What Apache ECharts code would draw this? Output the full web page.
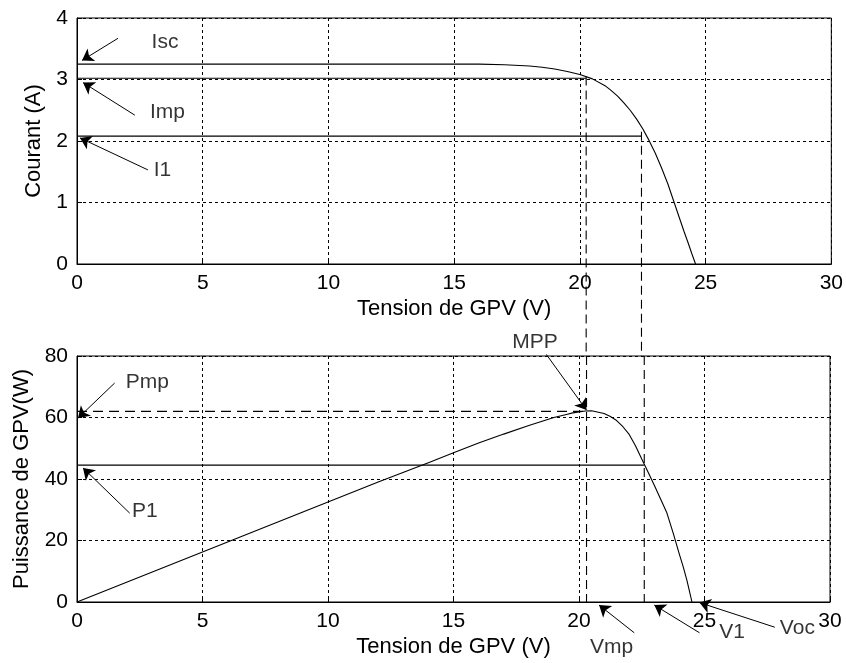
<!DOCTYPE html>
<html>
<head>
<meta charset="utf-8">
<script src="https://cdn.jsdelivr.net/npm/echarts@6/dist/echarts.min.js"></script>
<style>
html,body{margin:0;padding:0;background:#fff;}
#main{width:846px;height:663px;}
</style>
</head>
<body>
<div id="main"></div>
<script>
// ---- data ----
const voltageIV = [0,2,4,6,8,10,12,14,15,16,17,18,18.5,19,19.5,20,20.5,21,21.25,21.5,21.75,22,22.25,22.5,22.75,23,23.25,23.5,23.75,24,24.15,24.3,24.45,24.6];
const currentIV = [3.25,3.25,3.25,3.25,3.25,3.25,3.25,3.25,3.25,3.25,3.24,3.22,3.2,3.17,3.13,3.08,3.01,2.9,2.82,2.73,2.62,2.5,2.36,2.2,2.01,1.8,1.56,1.3,1.0,0.7,0.52,0.35,0.17,0];
const voltagePV = [0,2,4,6,8,10,12,14,15,16,17,18,18.5,19,19.5,19.75,20,20.25,20.5,21,21.25,21.5,21.75,22,22.25,22.5,22.75,23,23.25,23.5,23.75,24,24.15,24.3,24.4,24.5];
const powerPV   = [0,6.5,13,19.5,26,32.5,39,45.3,48.5,51.7,54.6,57.4,58.7,60,61,61.5,61.8,62.1,62.2,61.3,60.3,59,57,54.5,50.8,46.5,42.3,38,33.5,29,22.5,15.5,11.5,7,3.5,0];

const xTicks = [0,5,10,15,20,25,30];
const currentTicks = [0,1,2,3,4];
const powerTicks = [0,20,40,60,80];

// operating points
const Imp = 3.02, Vmp_top = 20.25, Imp_curve = 3.05;
const I1 = 2.08, V1_top = 22.45, I1_curve = 2.15;
const Pmp = 62, Vmp = 20.3;
const P1 = 44.5, V1 = 22.6;

// annotation labels (data coordinates) and arrows [from, to]
const topLabels = [['Isc',3.5,3.6],['Imp',3.6,2.47],['I1',3.4,1.53]];
const topArrows = [[[1.63,3.67],[0.2,3.31]],[[2.3,2.42],[0.24,2.95]],[[2.82,1.53],[0.12,2.05]]];
const botLabels = [['Pmp',2.8,71.5],['P1',2.7,29.6],['MPP',18.25,84.5],['Vmp',21.3,-14.6],['V1',26.1,-9.8],['Voc',28.7,-8.5]];
const botArrows = [[[1.5,71.2],[0.04,59.8]],[[2.1,28.9],[0.24,43.6]],[[18.7,80.5],[20.3,62.4]],
                   [[22.2,-10],[20.8,-1]],[[24.8,-10],[23.0,-1]],[[27.8,-8.2],[24.8,-0.2]]];

const FONT = 'Liberation Sans, Arial, sans-serif';
const TICK_FS = 21, NAME_FS = 22, LABEL_FS = 21;
const zip = (a,b) => a.map((v,i)=>[v,b[i]]);

const chart = echarts.init(document.getElementById('main'));

function xAxis(gridIndex){
  return {
    type:'value', gridIndex, min:0, max:30, interval:5,
    name:'Tension de GPV (V)', nameLocation:'middle', nameGap:34,
    nameTextStyle:{color:'#000', fontSize:NAME_FS, fontFamily:FONT},
    axisLine:{show:true, onZero:false, lineStyle:{color:'#000', width:1}},
    axisTick:{show:true, inside:true, length:5, lineStyle:{color:'#000'}},
    axisLabel:{color:'#000', fontSize:TICK_FS, fontFamily:FONT, margin:9},
    splitLine:{show:true, lineStyle:{color:'#000', type:[3,3], width:1}}
  };
}
function yAxis(gridIndex, max, interval, name, gap){
  return {
    type:'value', gridIndex, min:0, max, interval,
    name, nameLocation:'middle', nameGap:gap,
    nameTextStyle:{color:'#000', fontSize:NAME_FS, fontFamily:FONT},
    axisLine:{show:true, onZero:false, lineStyle:{color:'#000', width:1}},
    axisTick:{show:true, inside:true, length:5, lineStyle:{color:'#000'}},
    axisLabel:{color:'#000', fontSize:TICK_FS, fontFamily:FONT, margin:9},
    splitLine:{show:true, lineStyle:{color:'#000', type:[3,3], width:1}}
  };
}
function seg(name, xi, data, lineType, extra){
  return Object.assign({
    name, type:'line', xAxisIndex:xi, yAxisIndex:xi, data, showSymbol:false, symbol:'none',
    clip:false, silent:true, animation:false,
    lineStyle:{color:'#000', width:1.1, type:lineType||'solid'}
  }, extra||{});
}
function arrows(xi, list){
  return {
    type:'lines', coordinateSystem:'cartesian2d', xAxisIndex:xi, yAxisIndex:xi,
    clip:false, silent:true, animation:false,
    symbol:['none','arrow'], symbolSize:[0,11],
    lineStyle:{color:'#000', width:1, opacity:1, curveness:0},
    data: list.map(a=>({coords:a}))
  };
}
function labels(xi, list){
  return {
    type:'scatter', xAxisIndex:xi, yAxisIndex:xi, clip:false, silent:true, animation:false,
    symbol:'circle', symbolSize:1, itemStyle:{color:'rgba(0,0,0,0)'},
    label:{show:true, position:'inside', formatter:p=>p.data.name, color:'#000', fontSize:LABEL_FS, fontFamily:FONT},
    labelLayout:{hideOverlap:false},
    data: list.map(l=>({name:l[0], value:[l[1],l[2]]}))
  };
}

chart.setOption({
  backgroundColor:'#fff',
  animation:false,
  grid:[
    {left:77, top:18, width:755, height:246, show:true, borderColor:'#000', borderWidth:1, backgroundColor:'transparent'},
    {left:77, top:356, width:753, height:246, show:true, borderColor:'#000', borderWidth:1, backgroundColor:'transparent'}
  ],
  xAxis:[xAxis(0), xAxis(1)],
  yAxis:[yAxis(0,4,1,'Courant (A)',29), yAxis(1,80,20,'Puissance de GPV(W)',44)],
  series:[
    seg('I-V', 0, zip(voltageIV,currentIV)),
    seg('Imp', 0, [[0,Imp],[Vmp_top,Imp]]),
    seg('I1', 0, [[0,I1],[V1_top,I1]]),
    seg('Vmp top', 0, [[Vmp_top,Imp_curve],[Vmp_top,-1.5]], [9,5]),
    seg('V1 top', 0, [[V1_top,I1_curve],[V1_top,-1.5]], [9,5]),
    arrows(0, topArrows),
    labels(0, topLabels),
    seg('P-V', 1, zip(voltagePV,powerPV)),
    seg('Pmp', 1, [[0,Pmp],[Vmp,Pmp]], [10,6]),
    seg('P1', 1, [[0,P1],[V1,P1]]),
    seg('Vmp bottom', 1, [[Vmp,80],[Vmp,0]], [9,5]),
    seg('V1 bottom', 1, [[V1,80],[V1,0]], [9,5]),
    arrows(1, botArrows),
    labels(1, botLabels)
  ]
});
</script>
</body>
</html>
